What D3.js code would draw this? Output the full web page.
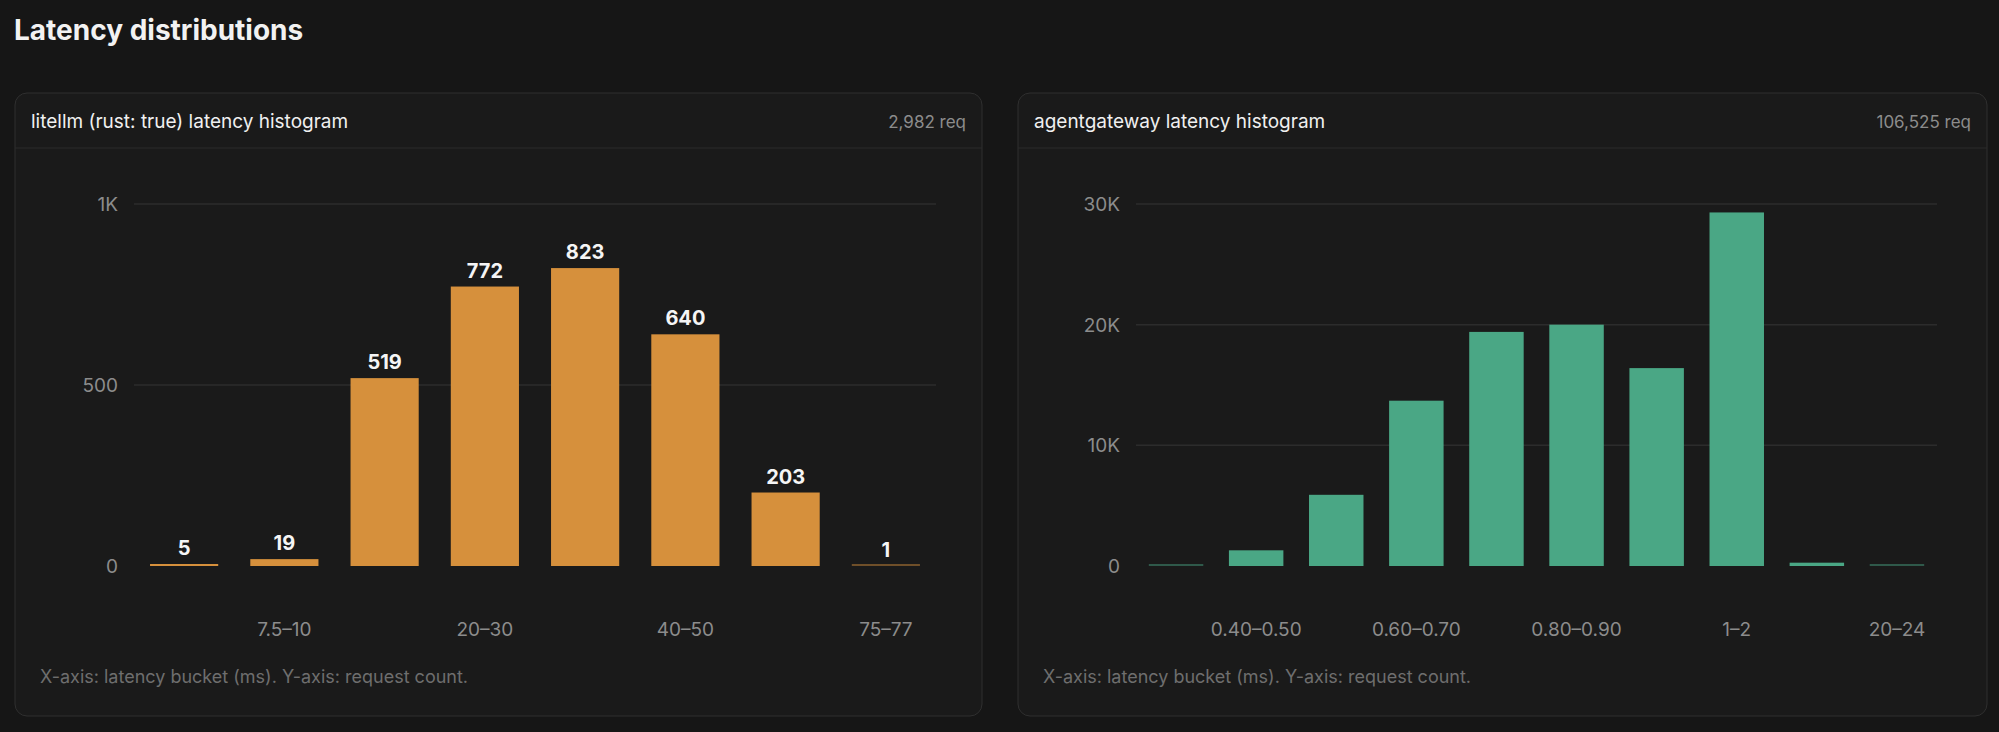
<!DOCTYPE html>
<html>
<head>
<meta charset="utf-8">
<script src="https://cdn.jsdelivr.net/npm/d3@7"></script>
<style>
  body { margin: 0; background: #161616; font-family: Inter, "Noto Sans", sans-serif; }
</style>
</head>
<body>
<svg id="chart" width="1999" height="732"></svg>
<script>
const litellmBuckets = ['5–7.5', '7.5–10', '10–20', '20–30', '30–40', '40–50', '50–75', '75–77'];
const litellmCounts = [5, 19, 519, 772, 823, 640, 203, 1];
const litellmTicks = [0, 500, 1000];

const agwBuckets = ['0.30–0.40', '0.40–0.50', '0.50–0.60', '0.60–0.70', '0.70–0.80', '0.80–0.90', '0.90–1', '1–2', '2–20', '20–24'];
const agwCounts = [100, 1300, 5900, 13700, 19400, 20000, 16400, 29300, 275, 50];
const agwTicks = [0, 10000, 20000, 30000];

const svg = d3.select('#chart');

svg.append('text')
    .attr('x', 14).attr('y', 40)
    .attr('fill', '#f2f2f2')
    .attr('font-size', '28px')
    .attr('font-weight', 700)
    .text('Latency distributions');

function kfmt(v) { return v >= 1000 ? (v / 1000) + 'K' : String(v); }

function drawPanel(opts) {
  const g = svg.append('g');
  g.append('rect')
      .attr('x', opts.x0).attr('y', 93)
      .attr('width', opts.x1 - opts.x0).attr('height', 623)
      .attr('rx', 12)
      .attr('fill', '#1a1a1a')
      .attr('stroke', '#2f2f2f');
  g.append('line')
      .attr('x1', opts.x0).attr('x2', opts.x1)
      .attr('y1', 148).attr('y2', 148)
      .attr('stroke', '#2a2a2a');
  g.append('text')
      .attr('x', opts.x0 + 16).attr('y', 128)
      .attr('fill', '#f0f0f0').attr('font-size', '19px')
      .text(opts.title);
  g.append('text')
      .attr('x', opts.x1 - 16).attr('y', 128)
      .attr('fill', '#8c8c8c').attr('font-size', '17px')
      .style('text-anchor', 'end')
      .text(opts.total);

  const x = d3.scaleBand()
              .domain(opts.buckets)
              .range([opts.gx0, opts.gx1])
              .paddingInner(0.32)
              .paddingOuter(0.16);
  const y = d3.scaleLinear().domain([0, opts.max]).range([566, 204]);

  g.selectAll('.grid')
    .data(opts.ticks.filter(t => t > 0))
    .enter().append('line')
      .attr('x1', opts.gx0).attr('x2', opts.gx1)
      .attr('y1', d => y(d)).attr('y2', d => y(d))
      .attr('stroke', '#2c2c2c').attr('stroke-width', 1.5);

  g.selectAll('.ytick')
    .data(opts.ticks)
    .enter().append('text')
      .attr('x', opts.gx0 - 16).attr('y', d => y(d) + 7)
      .attr('fill', '#8c8c8c').attr('font-size', '19px')
      .style('text-anchor', 'end')
      .text(kfmt);

  const data = opts.buckets.map((b, i) => ({ b: b, v: opts.counts[i] }));
  g.selectAll('.bar')
    .data(data)
    .enter().append('rect')
      .attr('x', d => x(d.b))
      .attr('width', x.bandwidth())
      .attr('y', d => Math.min(y(d.v), 564))
      .attr('height', d => Math.max(566 - y(d.v), 2))
      .attr('fill', opts.color)
      .attr('opacity', d => d.v < opts.max * 0.005 ? 0.45 : 1);

  if (opts.labels) {
    g.selectAll('.val')
      .data(data)
      .enter().append('text')
        .attr('x', d => x(d.b) + x.bandwidth() / 2)
        .attr('y', d => y(d.v) - 9)
        .attr('fill', '#f5f5f5').attr('font-size', '20px').attr('font-weight', 700)
        .style('text-anchor', 'middle')
        .text(d => d.v);
  }

  g.selectAll('.xtick')
    .data(opts.buckets.filter((b, i) => i % 2 === 1))
    .enter().append('text')
      .attr('x', d => x(d) + x.bandwidth() / 2)
      .attr('y', 636)
      .attr('fill', '#8c8c8c').attr('font-size', '19px')
      .style('text-anchor', 'middle')
      .text(d => d);

  g.append('text')
      .attr('x', opts.x0 + 25).attr('y', 683)
      .attr('fill', '#6e6e6e').attr('font-size', '18px')
      .text('X-axis: latency bucket (ms). Y-axis: request count.');
}

drawPanel({
  x0: 15, x1: 982, gx0: 134, gx1: 936,
  title: 'litellm (rust: true) latency histogram', total: '2,982 req',
  buckets: litellmBuckets, counts: litellmCounts, ticks: litellmTicks, max: 1000,
  color: '#d6903c', labels: true
});

drawPanel({
  x0: 1018, x1: 1987, gx0: 1136, gx1: 1937,
  title: 'agentgateway latency histogram', total: '106,525 req',
  buckets: agwBuckets, counts: agwCounts, ticks: agwTicks, max: 30000,
  color: '#4aa785', labels: false
});
</script>
</body>
</html>
